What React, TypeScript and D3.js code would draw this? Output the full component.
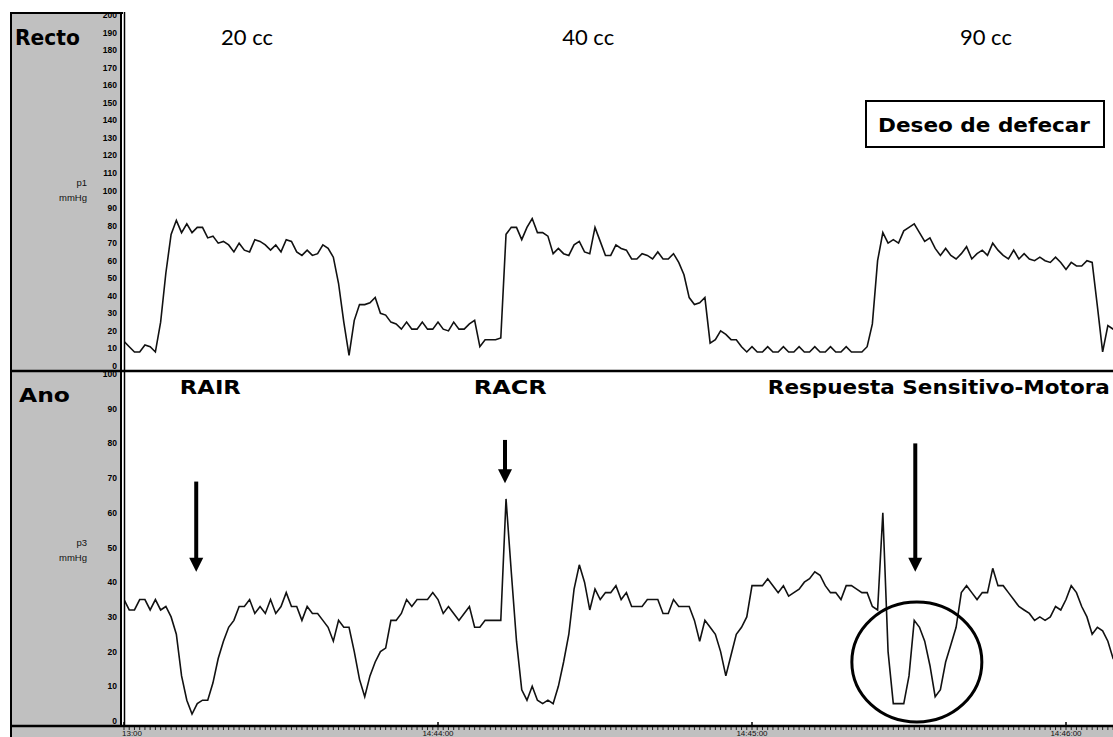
import React, { useEffect, useRef } from "react";
import * as d3 from "d3";

// seconds from 14:43:00, one sample per second
const rectoValues = [
  14, 11, 8, 8, 12, 11, 8, 25, 53, 75,
  83, 76, 81, 76, 79, 79, 73, 74, 70, 71,
  69, 65, 70, 66, 65, 72, 71, 69, 66, 69,
  65, 72, 71, 65, 63, 66, 63, 64, 69, 67,
  62, 47, 25, 6, 26, 35, 35, 36, 39, 30,
  29, 25, 24, 21, 25, 21, 21, 25, 21, 21,
  25, 21, 20, 25, 21, 21, 24, 26, 11, 15,
  15, 15, 16, 75, 79, 79, 72, 79, 84, 76,
  76, 74, 64, 67, 64, 63, 69, 71, 65, 64,
  79, 71, 63, 63, 69, 67, 66, 61, 61, 64,
  63, 61, 65, 61, 61, 64, 59, 52, 39, 35,
  36, 39, 13, 15, 20, 18, 15, 15, 11, 8,
  11, 8, 8, 11, 8, 8, 11, 8, 8, 11,
  8, 8, 11, 8, 8, 11, 8, 8, 11, 8,
  8, 8, 11, 24, 60, 76, 70, 72, 70, 77,
  79, 81, 76, 71, 73, 67, 63, 67, 63, 61,
  64, 68, 61, 64, 66, 63, 70, 66, 63, 61,
  66, 61, 64, 61, 60, 62, 60, 59, 62, 59,
  55, 59, 57, 57, 60, 59, 34, 8, 23, 21,
  21,
];

const anoValues = [
  35, 32, 32, 35, 35, 32, 35, 32, 33, 30,
  25, 13, 6, 2, 5, 6, 6, 11, 18, 23,
  27, 29, 33, 33, 35, 31, 33, 31, 35, 31,
  33, 37, 33, 33, 29, 33, 31, 31, 29, 27,
  23, 29, 27, 27, 20, 12, 7, 13, 17, 20,
  21, 29, 29, 31, 35, 33, 35, 35, 35, 37,
  35, 31, 33, 31, 29, 31, 33, 27, 27, 29,
  29, 29, 29, 64, 43, 23, 9, 6, 10, 6,
  5, 6, 5, 10, 17, 25, 38, 45, 40, 32,
  38, 35, 37, 37, 39, 35, 37, 33, 33, 33,
  35, 35, 35, 31, 31, 35, 33, 33, 33, 29,
  23, 29, 27, 25, 20, 13, 19, 25, 27, 30,
  39, 39, 39, 41, 39, 37, 39, 36, 37, 38,
  40, 41, 43, 42, 39, 37, 37, 35, 39, 39,
  38, 37, 37, 33, 32, 60, 20, 5, 5, 5,
  13, 29, 27, 23, 16, 7, 9, 17, 22, 27,
  37, 39, 37, 35, 37, 37, 44, 39, 39, 37,
  35, 33, 32, 31, 29, 30, 29, 30, 33, 32,
  35, 39, 37, 33, 30, 25, 27, 26, 23, 18,
  17,
];

const rectoTicks = [0, 10, 20, 30, 40, 50, 60, 70, 80, 90, 100, 110, 120, 130, 140, 150, 160, 170, 180, 190, 200];
const anoTicks = [0, 10, 20, 30, 40, 50, 60, 70, 80, 90, 100];
const timeTicks = [0, 60, 120, 180];
const timeLabels = ["13:00", "14:44:00", "14:45:00", "14:46:00"];

const volumeLabels = ["20 cc", "40 cc", "90 cc"];
const volumeTimes = [23.5, 88.7, 164.7];
const responseLabels = ["RAIR", "RACR", "Respuesta Sensitivo-Motora"];
const responseTimes = [16.5, 73.8, 155.7];
const responseWidths = [61, 73, 342];
const arrowTimes = [13.8, 72.8, 151.2];
const arrowTops = [69, 81, 80]; // mmHg on the anal scale
const arrowTips = [43, 68.5, 43];

const W = 1113;
const H = 737;
const headFont = "'DejaVu Sans', Verdana, sans-serif";
const lightFont = "'Lato', 'Open Sans', sans-serif";
const tickFont = "'Liberation Sans Narrow', 'Liberation Sans', Arial, sans-serif";

export default function App() {
  const ref = useRef<SVGSVGElement>(null);

  useEffect(() => {
    const svg = d3.select(ref.current);
    svg.selectAll("*").remove();

    const x = d3.scaleLinear().domain([0, 180]).range([124, 1066]);
    const yR = d3.scaleLinear().domain([0, 200]).range([366, 15]);
    const yA = d3.scaleLinear().domain([0, 100]).range([721, 374]);

    svg.append("rect").attr("width", W).attr("height", H).attr("fill", "#fff");

    const defs = svg.append("defs");
    defs.append("clipPath").attr("id", "clipTop")
      .append("rect").attr("x", 125).attr("y", 14).attr("width", W - 125).attr("height", 356);
    defs.append("clipPath").attr("id", "clipBot")
      .append("rect").attr("x", 125).attr("y", 373).attr("width", W - 125).attr("height", 353);
    defs.append("clipPath").attr("id", "clipPanel")
      .append("rect").attr("x", 11).attr("y", 14).attr("width", 112).attr("height", 713);

    // grey side panel + bottom strip
    svg.append("rect").attr("x", 11).attr("y", 13).attr("width", 111).attr("height", H - 13).attr("fill", "#c0c0c0");
    svg.append("rect").attr("x", 11).attr("y", 727).attr("width", W - 11).attr("height", 10).attr("fill", "#c0c0c0");

    const frame = svg.append("g").attr("stroke", "#000").attr("fill", "none");
    frame.append("line").attr("x1", 11).attr("x2", 11).attr("y1", 12).attr("y2", H).attr("stroke-width", 2);
    frame.append("line").attr("x1", 10).attr("x2", 123).attr("y1", 13).attr("y2", 13).attr("stroke-width", 2);
    frame.append("line").attr("x1", 121).attr("x2", 121).attr("y1", 12).attr("y2", 727).attr("stroke-width", 2);
    frame.append("line").attr("x1", 124.5).attr("x2", 124.5).attr("y1", 12).attr("y2", 727).attr("stroke-width", 1.5);
    frame.append("line").attr("x1", 11).attr("x2", W).attr("y1", 371).attr("y2", 371).attr("stroke-width", 2.5);
    frame.append("line").attr("x1", 11).attr("x2", W).attr("y1", 726).attr("y2", 726).attr("stroke-width", 2.5);

    // y tick labels
    const panel = svg.append("g").attr("clip-path", "url(#clipPanel)")
      .attr("font-family", tickFont).attr("font-size", 8.5).attr("font-weight", "bold")
      .attr("text-anchor", "end").attr("fill", "#000");
    panel.selectAll("text.r").data(rectoTicks).enter().append("text")
      .attr("class", "r").attr("x", 117).attr("y", (d) => yR(d) + 3).text((d) => d);
    panel.selectAll("text.a").data(anoTicks).enter().append("text")
      .attr("class", "a").attr("x", 117).attr("y", (d) => yA(d) + 3).text((d) => d);

    const unit = svg.append("g").attr("font-family", "'Liberation Sans', Arial, sans-serif")
      .attr("font-size", 9.5).attr("text-anchor", "end").attr("fill", "#111");
    unit.append("text").attr("x", 87).attr("y", 186).text("p1");
    unit.append("text").attr("x", 87).attr("y", 201).text("mmHg");
    unit.append("text").attr("x", 87).attr("y", 546).text("p3");
    unit.append("text").attr("x", 87).attr("y", 561).text("mmHg");

    svg.append("text").attr("x", 15).attr("y", 45).attr("font-family", headFont)
      .attr("font-weight", "bold").attr("font-size", 22)
      .attr("textLength", 65).attr("lengthAdjust", "spacingAndGlyphs").text("Recto");
    svg.append("text").attr("x", 19).attr("y", 402).attr("font-family", headFont)
      .attr("font-weight", "bold").attr("font-size", 20)
      .attr("textLength", 51).attr("lengthAdjust", "spacingAndGlyphs").text("Ano");

    // time axis
    const minor = d3.range(0, 190, 1);
    svg.append("g").selectAll("line").data(minor).enter().append("line")
      .attr("x1", (d) => x(d)).attr("x2", (d) => x(d))
      .attr("y1", 727).attr("y2", 730).attr("stroke", "#222").attr("stroke-width", 1);
    svg.append("g").selectAll("line").data(timeTicks).enter().append("line")
      .attr("x1", (d) => x(d)).attr("x2", (d) => x(d))
      .attr("y1", 722).attr("y2", 727).attr("stroke", "#000").attr("stroke-width", 1.5);
    svg.append("g").attr("font-family", tickFont).attr("font-size", 8).attr("fill", "#111")
      .selectAll("text").data(timeTicks).enter().append("text")
      .attr("x", (d, i) => (i === 0 ? x(d) - 2 : x(d)))
      .attr("y", 736)
      .attr("text-anchor", (d, i) => (i === 0 ? "start" : "middle"))
      .text((d, i) => timeLabels[i]);

    // traces
    const lineR = d3.line<number>().x((d, i) => x(i)).y((d) => yR(d)).curve(d3.curveLinear);
    const lineA = d3.line<number>().x((d, i) => x(i)).y((d) => yA(d)).curve(d3.curveLinear);
    svg.append("path").datum(rectoValues).attr("clip-path", "url(#clipTop)")
      .attr("d", lineR).attr("fill", "none").attr("stroke", "#111").attr("stroke-width", 1.6)
      .attr("stroke-linejoin", "miter");
    svg.append("path").datum(anoValues).attr("clip-path", "url(#clipBot)")
      .attr("d", lineA).attr("fill", "none").attr("stroke", "#111").attr("stroke-width", 1.6)
      .attr("stroke-linejoin", "miter");

    // annotations
    svg.append("g").attr("font-family", lightFont).attr("font-size", 22).attr("text-anchor", "middle")
      .selectAll("text").data(volumeLabels).enter().append("text")
      .attr("x", (d, i) => x(volumeTimes[i])).attr("y", 45).text((d) => d);

    svg.append("rect").attr("x", 866).attr("y", 101).attr("width", 238).attr("height", 46)
      .attr("fill", "#fff").attr("stroke", "#000").attr("stroke-width", 2);
    svg.append("text").attr("x", 878).attr("y", 132)
      .attr("font-family", headFont).attr("font-weight", "bold").attr("font-size", 20)
      .attr("textLength", 212).attr("lengthAdjust", "spacingAndGlyphs").text("Deseo de defecar");

    svg.append("g").attr("font-family", headFont).attr("font-weight", "bold").attr("font-size", 20)
      .selectAll("text").data(responseLabels).enter().append("text")
      .attr("x", (d, i) => x(responseTimes[i]) - responseWidths[i] / 2).attr("y", 394)
      .attr("textLength", (d, i) => responseWidths[i]).attr("lengthAdjust", "spacingAndGlyphs")
      .text((d) => d);

    const arrows = svg.append("g");
    arrowTimes.forEach((t, i) => {
      const ax = x(t);
      const top = yA(arrowTops[i]);
      const tip = yA(arrowTips[i]);
      arrows.append("line").attr("x1", ax).attr("x2", ax).attr("y1", top).attr("y2", tip - 12)
        .attr("stroke", "#000").attr("stroke-width", 4);
      arrows.append("path")
        .attr("d", `M${ax - 7},${tip - 14}L${ax + 7},${tip - 14}L${ax},${tip}Z`).attr("fill", "#000");
    });

    svg.append("ellipse").attr("cx", x(151.5)).attr("cy", yA(17)).attr("rx", 65).attr("ry", 60)
      .attr("fill", "none").attr("stroke", "#000").attr("stroke-width", 3);
  }, []);

  return (
    <svg
      ref={ref}
      width={W}
      height={H}
      style={{ position: "absolute", left: 0, top: 0, display: "block" }}
    />
  );
}
